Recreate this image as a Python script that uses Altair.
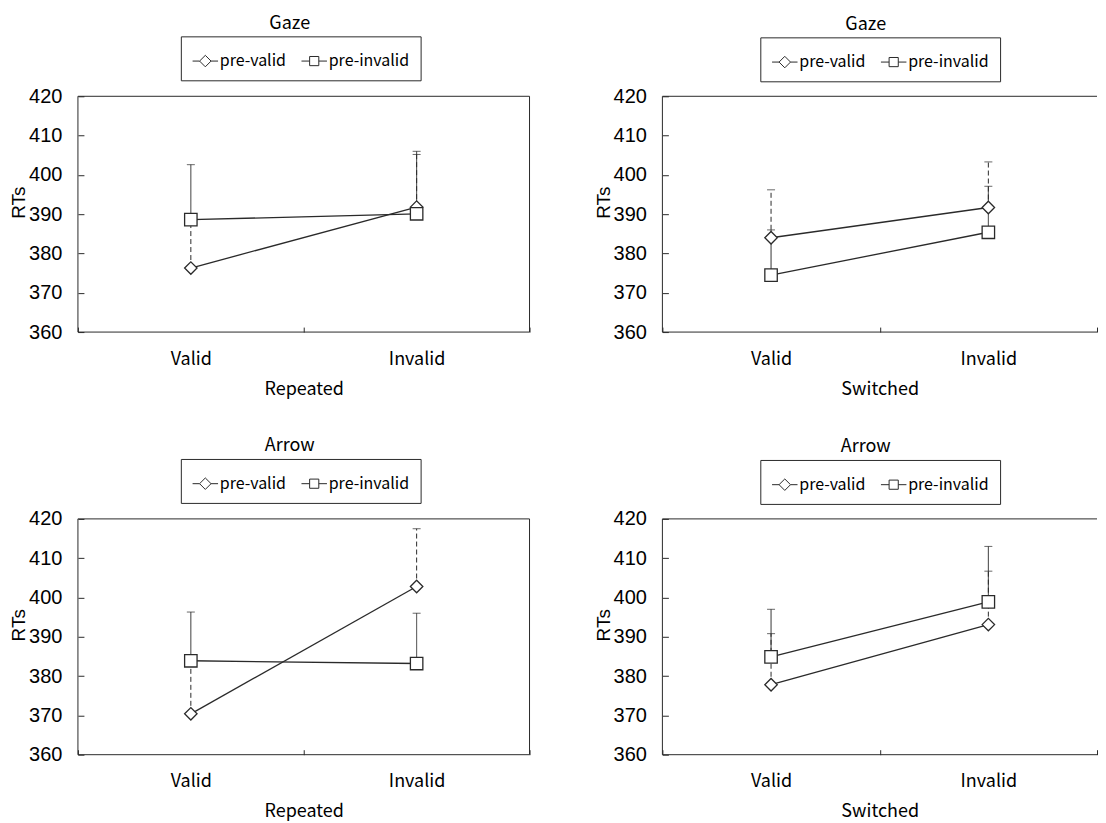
import altair as alt
import pandas as pd

conditions = ["Valid", "Invalid"]
series_names = ["pre-valid", "pre-invalid"]

panel_titles = ["Gaze", "Gaze", "Arrow", "Arrow"]
panel_xtitles = ["Repeated", "Switched", "Repeated", "Switched"]

y_ticks = [360, 370, 380, 390, 400, 410, 420]

# Gaze / Repeated
gaze_rep_prevalid = [376.3, 391.8]
gaze_rep_prevalid_upper = [388.0, 405.2]
gaze_rep_preinvalid = [388.6, 390.1]
gaze_rep_preinvalid_upper = [402.6, 406.0]

# Gaze / Switched
gaze_sw_prevalid = [384.0, 391.7]
gaze_sw_prevalid_upper = [396.2, 403.3]
gaze_sw_preinvalid = [374.5, 385.4]
gaze_sw_preinvalid_upper = [386.0, 397.1]

# Arrow / Repeated
arrow_rep_prevalid = [370.4, 402.8]
arrow_rep_prevalid_upper = [383.0, 417.5]
arrow_rep_preinvalid = [383.9, 383.2]
arrow_rep_preinvalid_upper = [396.3, 396.0]

# Arrow / Switched
arrow_sw_prevalid = [377.8, 393.1]
arrow_sw_prevalid_upper = [390.8, 406.7]
arrow_sw_preinvalid = [384.9, 398.9]
arrow_sw_preinvalid_upper = [397.0, 413.0]

TEXT_FONT = "Noto Sans CJK JP"
NUM_FONT = "Liberation Sans"
INK = "#2a2a2a"

DIAMOND_LEG = "M-1,0L-0.45,0M0.45,0L1,0M-0.45,0L0,-0.45L0.45,0L0,0.45Z"
SQUARE_LEG = "M-1,0L-0.36,0M0.36,0L1,0M-0.36,-0.36L0.36,-0.36L0.36,0.36L-0.36,0.36Z"


def panel_df(pv, pv_up, pi, pi_up):
    rows = []
    for s, means, ups in [(series_names[0], pv, pv_up), (series_names[1], pi, pi_up)]:
        for c, m, u in zip(conditions, means, ups):
            rows.append({"cond": c, "series": s, "rt": m, "upper": u})
    return pd.DataFrame(rows)


def panel(df, title, xtitle, W, H, leg_x, leg_y, right_border=True):
    x_axis = alt.Axis(
        title=xtitle, tickBand="extent", offset=-5, tickSize=5, domain=False,
        labelAngle=0, labelFont=TEXT_FONT, labelFontSize=18, labelColor="black",
        labelPadding=18, titleFont=TEXT_FONT, titleFontSize=18, titleFontWeight="normal",
        titleColor="black", titlePadding=12, tickColor=INK, grid=False,
    )
    y_axis = alt.Axis(
        title="RTs", values=y_ticks, offset=-6, tickSize=6, domain=False, grid=False,
        labelFont=NUM_FONT, labelFontSize=20, labelColor="black", labelPadding=16,
        titleFont=NUM_FONT, titleFontSize=19, titleFontWeight="normal", titleColor="black",
        titleX=-55, titleY=106, titleAlign="center", titleBaseline="bottom", tickColor=INK,
    )
    x_scale = alt.Scale(type="band", domain=conditions, paddingInner=0, paddingOuter=0)
    y_scale = alt.Scale(domain=[360, 420], nice=False, zero=False)

    base = alt.Chart(df)
    X = alt.X("cond:N", scale=x_scale, axis=x_axis, sort=conditions)

    err = base.mark_rule(color=INK, strokeWidth=1).encode(
        x=X,
        y=alt.Y("rt:Q", scale=y_scale, axis=y_axis),
        y2="upper:Q",
        strokeDash=alt.StrokeDash("series:N", scale=alt.Scale(domain=series_names, range=[[5, 3], [1, 0]]), legend=None),
    )
    caps = base.mark_tick(orient="horizontal", size=8, thickness=1, color=INK).encode(
        x=X,
        y=alt.Y("upper:Q", scale=y_scale, axis=y_axis),
    )
    lines = base.mark_line(color=INK, strokeWidth=1.3).encode(
        x=X,
        y=alt.Y("rt:Q", scale=y_scale, axis=y_axis),
        detail="series:N",
    )
    pts = base.mark_point(filled=True, fill="white", stroke=INK, strokeWidth=1.3, size=155, opacity=1).encode(
        x=X,
        y=alt.Y("rt:Q", scale=y_scale, axis=y_axis),
        shape=alt.Shape("series:N", scale=alt.Scale(domain=series_names, range=["diamond", "square"]), legend=None),
    )
    leg = base.transform_filter("false").mark_point(filled=False, color=INK, strokeWidth=1, size=650, opacity=1).encode(
        shape=alt.Shape(
            "series:N",
            scale=alt.Scale(domain=series_names, range=[DIAMOND_LEG, SQUARE_LEG]),
            legend=alt.Legend(
                title=None, orient="none", legendX=leg_x, legendY=leg_y, direction="horizontal",
                strokeColor=INK, padding=11, labelFont=TEXT_FONT, labelFontSize=16,
                labelColor="black", symbolSize=650, symbolStrokeColor=INK,
                symbolStrokeWidth=1, symbolOpacity=1, columnPadding=12, labelOffset=1,
            ),
        ),
    )
    frame_df = pd.DataFrame({"k": [0]})
    fr = alt.Chart(frame_df)
    frames = [
        fr.mark_rule(color=INK, strokeWidth=1).encode(y=alt.value(0)),
        fr.mark_rule(color=INK, strokeWidth=1).encode(y=alt.value(H)),
        fr.mark_rule(color=INK, strokeWidth=1).encode(x=alt.value(0)),
    ]
    if right_border:
        frames.append(fr.mark_rule(color=INK, strokeWidth=1).encode(x=alt.value(W)))

    return alt.layer(err, caps, lines, pts, leg, *frames).resolve_scale(shape="independent").properties(
        width=W, height=H,
        title=alt.TitleParams(title, font=TEXT_FONT, fontSize=18, fontWeight="normal", color="black", dx=-14, offset=3),
    )


d1 = panel_df(gaze_rep_prevalid, gaze_rep_prevalid_upper, gaze_rep_preinvalid, gaze_rep_preinvalid_upper)
d2 = panel_df(gaze_sw_prevalid, gaze_sw_prevalid_upper, gaze_sw_preinvalid, gaze_sw_preinvalid_upper)
d3 = panel_df(arrow_rep_prevalid, arrow_rep_prevalid_upper, arrow_rep_preinvalid, arrow_rep_preinvalid_upper)
d4 = panel_df(arrow_sw_prevalid, arrow_sw_prevalid_upper, arrow_sw_preinvalid, arrow_sw_preinvalid_upper)

p1 = panel(d1, panel_titles[0], panel_xtitles[0], 452, 236, 103, -60, True)
p2 = panel(d2, panel_titles[1], panel_xtitles[1], 435, 236, 98, -59, False)
p3 = panel(d3, panel_titles[2], panel_xtitles[2], 452, 236, 103, -60, True)
p4 = panel(d4, panel_titles[3], panel_xtitles[3], 435, 236, 98, -59, False)

row1 = alt.hconcat(p1, p2, spacing=63)
row2 = alt.hconcat(p3, p4, spacing=63)

chart = alt.vconcat(row1, row2, spacing=38).properties(
    padding={"left": 1, "top": 6, "right": 0, "bottom": 0},
    background="white",
).configure_view(stroke="transparent")

chart.save("out.html", embed_options={"renderer": "svg", "actions": False})
